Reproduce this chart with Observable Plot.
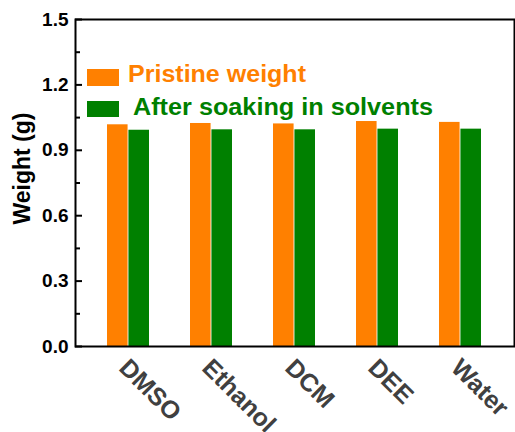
<!DOCTYPE html>
<html>
<head>
<meta charset="utf-8">
<script src="https://cdn.jsdelivr.net/npm/d3@7"></script>
<script src="https://cdn.jsdelivr.net/npm/@observablehq/plot@0.6"></script>
<style>
  html, body { margin: 0; padding: 0; background: white; }
  #chart svg { display: block; }
</style>
</head>
<body>
<div id="chart"></div>
<script>
// Sample weight before and after soaking in each solvent (g)
const solvents = ["DMSO", "Ethanol", "DCM", "DEE", "Water"];
const pristineWeight = [1.017, 1.023, 1.021, 1.032, 1.028];
const soakedWeight = [0.992, 0.994, 0.994, 0.997, 0.997];
const seriesNames = ["Pristine weight", "After soaking in solvents"];
const seriesColors = ["#ff8000", "#008000"];
const yMajorTicks = [0, 0.3, 0.6, 0.9, 1.2, 1.5];
const yMinorTicks = [0.15, 0.45, 0.75, 1.05, 1.35];

const W = 515, H = 432;
const margin = {left: 75, right: 1, top: 19, bottom: 86};
const paddingInner = 0.488, paddingOuter = 0.367;

// half of the band width, so each series fills one half of a category band
const step = (W - margin.left - margin.right) / (solvents.length - paddingInner + 2 * paddingOuter);
const half = step * (1 - paddingInner) / 2;

const pristineRows = solvents.map((s, i) => ({solvent: s, value: pristineWeight[i]}));
const soakedRows = solvents.map((s, i) => ({solvent: s, value: soakedWeight[i]}));

const font = "'Liberation Sans', Arial, sans-serif";

const chart = Plot.plot({
  width: W,
  height: H,
  marginLeft: margin.left,
  marginRight: margin.right,
  marginTop: margin.top,
  marginBottom: margin.bottom,
  style: {fontFamily: font, background: "white", color: "black"},
  x: {domain: solvents, paddingInner, paddingOuter, axis: null},
  y: {domain: [0, 1.5], label: null},
  marks: [
    Plot.barY(pristineRows, {x: "solvent", y: "value", fill: seriesColors[0], insetRight: half}),
    Plot.barY(soakedRows, {x: "solvent", y: "value", fill: seriesColors[1], insetLeft: half}),
    Plot.frame({stroke: "black", strokeWidth: 2}),
    Plot.axisY(yMajorTicks, {
      tickSize: -7, tickPadding: 14, strokeWidth: 2,
      tickFormat: d3.format(".1f"), fontSize: 19, fontWeight: "bold", label: null
    }),
    Plot.axisY(yMinorTicks, {tickSize: -5, strokeWidth: 2, tickFormat: () => "", label: null}),
    Plot.text(solvents, {
      x: d => d, frameAnchor: "bottom", rotate: 45,
      textAnchor: "start", lineAnchor: "middle", dx: -5, dy: 17,
      fontSize: 25, fontWeight: "bold", fill: "#404040"
    })
  ]
});

const svg = d3.select(chart);

// y-axis title
svg.append("text")
  .attr("transform", "translate(30,168.5) rotate(-90)")
  .attr("text-anchor", "middle")
  .attr("font-family", font)
  .attr("font-weight", "bold")
  .attr("font-size", 23)
  .attr("fill", "black")
  .text("Weight (g)");

// legend inside the plot area
const legend = svg.append("g")
  .attr("font-family", font)
  .attr("font-weight", "bold")
  .attr("font-size", 23)
  .attr("text-anchor", "start");
const legendRows = [
  {rectY: 69, rectH: 17, textX: 128, textY: 82, width: 178},
  {rectY: 101, rectH: 16, textX: 133, textY: 115, width: 300}
];
legendRows.forEach((r, i) => {
  legend.append("rect")
    .attr("x", 87).attr("y", r.rectY)
    .attr("width", 32).attr("height", r.rectH)
    .attr("fill", seriesColors[i]);
  legend.append("text")
    .attr("x", r.textX).attr("y", r.textY)
    .attr("text-anchor", "start")
    .attr("fill", seriesColors[i])
    .attr("textLength", r.width)
    .attr("lengthAdjust", "spacingAndGlyphs")
    .text(seriesNames[i]);
});

document.getElementById("chart").appendChild(chart);
</script>
</body>
</html>
